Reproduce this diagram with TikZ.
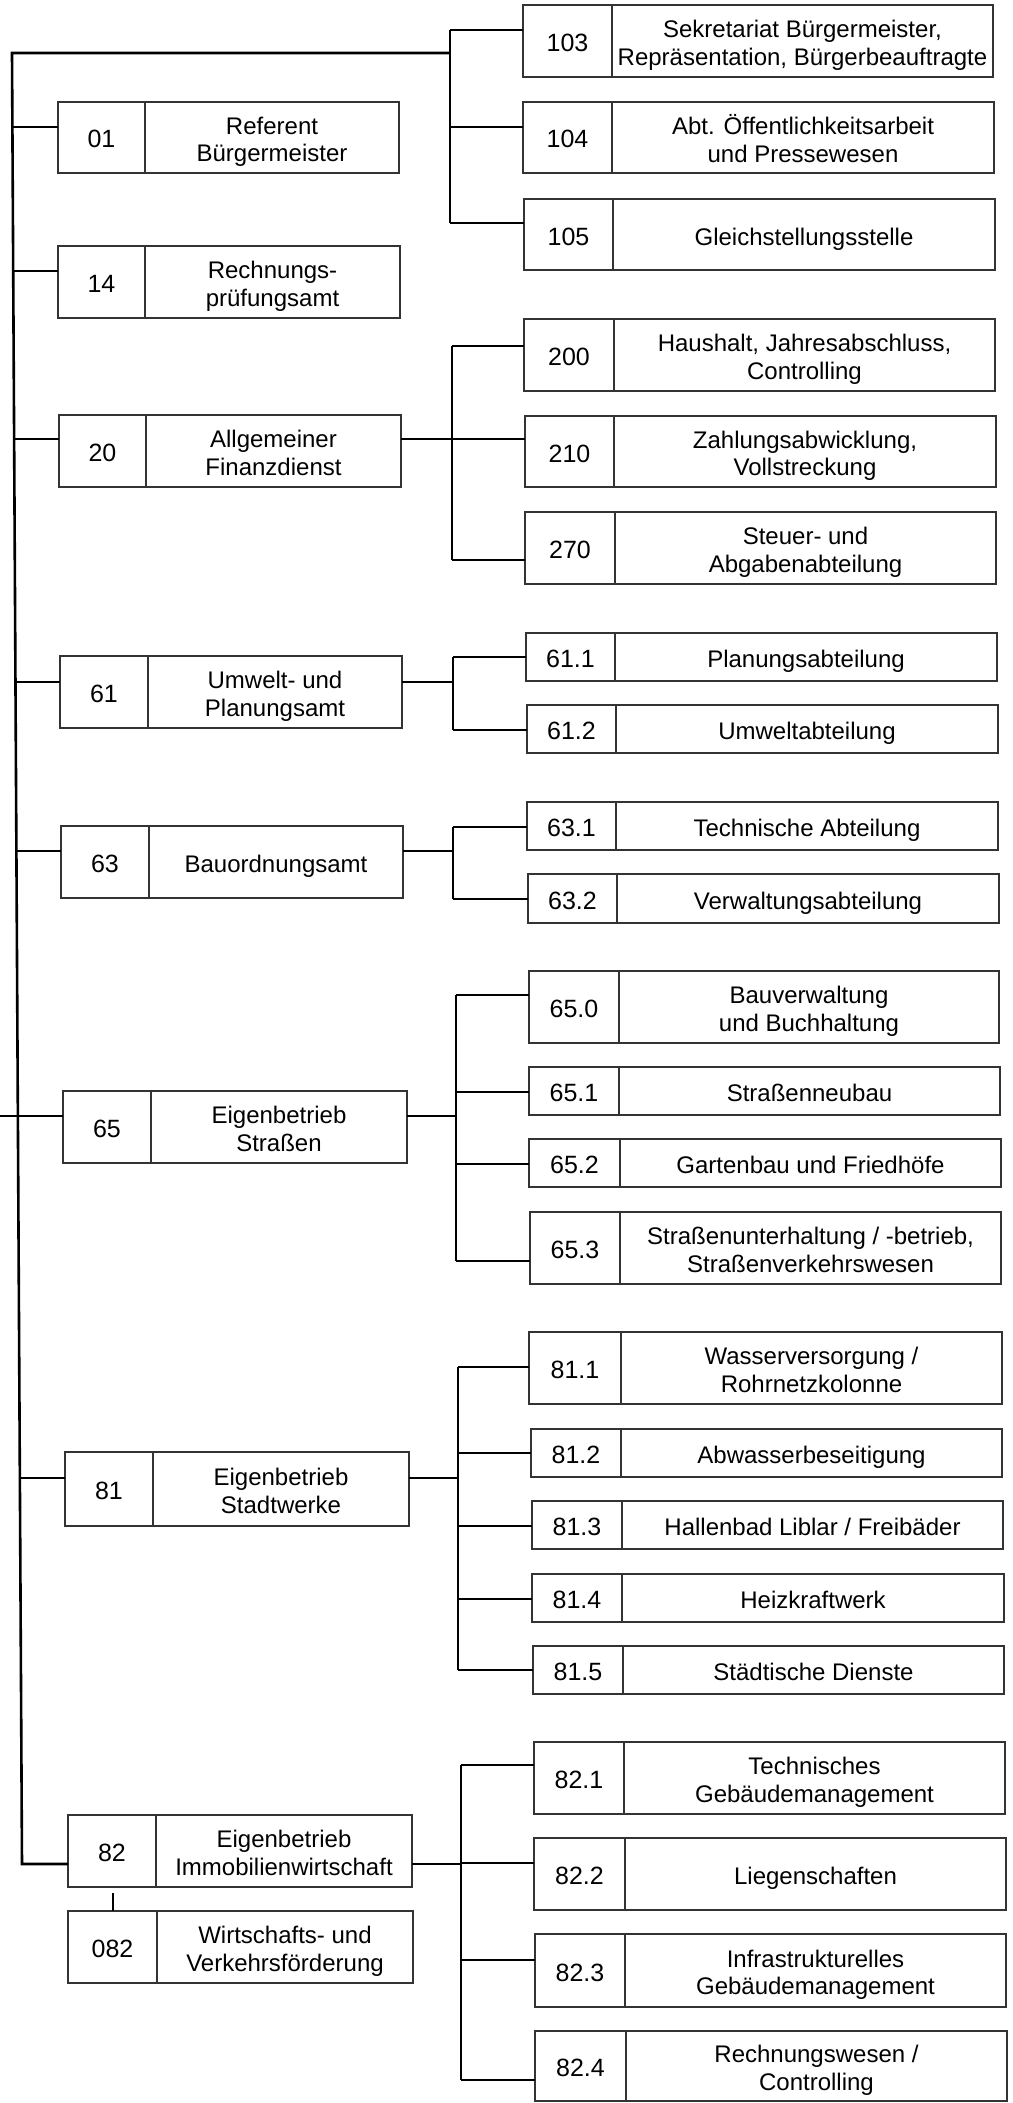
\documentclass[tikz,border=0pt]{standalone}
\usepackage{fontspec}
\setmainfont{Liberation Sans}
\tikzset{
  cell/.style={draw=black!80, line width=1.1pt, inner sep=0pt, outer sep=0pt, align=center,
    font=\fontsize{24}{27.5}\selectfont},
  numcell/.style={cell, font=\fontsize{25}{27.5}\selectfont},
  txtcell/.style={cell},
  conn/.style={line width=2.6pt, draw=black},
  link/.style={line width=1.6pt, draw=black},
}
\newcommand\cellstack[1]{\raisebox{-5pt}[\height][\depth]{\begin{tabular}{@{}c@{}}#1\end{tabular}}}
% #1 name, #2 left, #3 top, #4 right, #5 bottom, #6 divider, #7 number, #8 text
\newcommand\orgbox[8]{%
  \node[numcell, minimum width={(#6-#2)*1pt}, minimum height={(#5-#3)*1pt}]
    (N#1) at ({(#2+#6)/2},{(#3+#5)/2}) {\cellstack{#7}};
  \node[txtcell, minimum width={(#4-#6)*1pt}, minimum height={(#5-#3)*1pt}]
    (#1) at ({(#6+#4)/2},{(#3+#5)/2}) {\cellstack{#8}};
}
\begin{document}
\begin{tikzpicture}[x=1pt, y=-1pt]
\useasboundingbox[fill=white] (0,0) rectangle (1012,2103);

% ---------- left column ----------
\orgbox{a01}{58}{102}{399}{173}{145}{01}{Referent\\Bürgermeister}
\orgbox{a14}{58}{246}{400}{318}{145}{14}{Rechnungs-\\prüfungsamt}
\orgbox{a20}{59}{415}{401}{487}{146}{20}{Allgemeiner\\Finanzdienst}
\orgbox{a61}{60}{656}{402}{728}{148}{61}{Umwelt- und\\Planungsamt}
\orgbox{a63}{61}{826}{403}{898}{149}{63}{Bauordnungsamt}
\orgbox{a65}{63}{1091}{407}{1163}{151}{65}{Eigenbetrieb\\Straßen}
\orgbox{a81}{65}{1452}{409}{1526}{153}{81}{Eigenbetrieb\\Stadtwerke}
\orgbox{a82}{68}{1815}{412}{1887}{156}{82}{Eigenbetrieb\\Immobilienwirtschaft}
\orgbox{a082}{68}{1911}{413}{1983}{157}{082}{Wirtschafts- und\\Verkehrsförderung}

% ---------- right column ----------
\orgbox{b103}{523}{5}{993}{77}{612}{103}{Sekretariat Bürgermeister,\\Repräsentation, Bürgerbeauftragte}
\orgbox{b104}{523}{102}{994}{173}{612}{104}{Abt. Öffentlichkeitsarbeit\\und Pressewesen}
\orgbox{b105}{524}{199}{995}{270}{613}{105}{Gleichstellungsstelle}
\orgbox{b200}{524}{319}{995}{391}{614}{200}{Haushalt, Jahresabschluss,\\Controlling}
\orgbox{b210}{525}{416}{996}{487}{614}{210}{Zahlungsabwicklung,\\Vollstreckung}
\orgbox{b270}{525}{512}{996}{584}{615}{270}{Steuer- und\\Abgabenabteilung}
\orgbox{b611}{526}{633}{997}{681}{615}{61.1}{Planungsabteilung}
\orgbox{b612}{527}{705}{998}{753}{616}{61.2}{Umweltabteilung}
\orgbox{b631}{527}{802}{998}{850}{616}{63.1}{Technische Abteilung}
\orgbox{b632}{528}{874}{999}{923}{617}{63.2}{Verwaltungsabteilung}
\orgbox{b650}{529}{971}{999}{1043}{619}{65.0}{Bauverwaltung\\und Buchhaltung}
\orgbox{b651}{529}{1067}{1000}{1115}{619}{65.1}{Straßenneubau}
\orgbox{b652}{529}{1139}{1001}{1187}{620}{65.2}{Gartenbau und Friedhöfe}
\orgbox{b653}{530}{1212}{1001}{1284}{620}{65.3}{Straßenunterhaltung / -betrieb,\\Straßenverkehrswesen}
\orgbox{b811}{529}{1332}{1002}{1404}{621}{81.1}{Wasserversorgung /\\Rohrnetzkolonne}
\orgbox{b812}{531}{1429}{1002}{1477}{621}{81.2}{Abwasserbeseitigung}
\orgbox{b813}{532}{1501}{1003}{1549}{622}{81.3}{Hallenbad Liblar / Freibäder}
\orgbox{b814}{532}{1574}{1004}{1622}{622}{81.4}{Heizkraftwerk}
\orgbox{b815}{533}{1646}{1004}{1694}{623}{81.5}{Städtische Dienste}
\orgbox{b821}{534}{1742}{1005}{1814}{624}{82.1}{Technisches\\Gebäudemanagement}
\orgbox{b822}{534}{1838}{1006}{1910}{625}{82.2}{Liegenschaften}
\orgbox{b823}{535}{1934}{1006}{2007}{625}{82.3}{Infrastrukturelles\\Gebäudemanagement}
\orgbox{b824}{535}{2031}{1007}{2101}{626}{82.4}{Rechnungswesen /\\Controlling}

% ---------- main spine ----------
\coordinate (mtop) at (12,53);
\coordinate (mbot) at (22,1864);
\coordinate (jtop) at (450,53);
\coordinate (root) at (0,1116);
\draw[conn, line join=miter] (mbot -| Na82.west) -- (mbot) -- (mtop) -- (jtop);
\foreach \n/\x/\y in {01/12.4/127, 14/13.2/271, 20/14.1/439, 61/15.5/682,
                      63/16.4/851, 65/17.9/1116, 81/19.9/1478} {
  \coordinate (m\n) at (\x,\y);
  \draw[conn] (m\n) -- (m\n -| Na\n.west);
}
\draw[conn] (root) -- (m65);

% ---------- branches ----------
% top group
\foreach \n/\y in {103/30, 104/127, 105/223} {
  \coordinate (j\n) at (450,\y);
  \draw[conn] (j\n) -- (j\n -| Nb\n.west);
}
\draw[conn] (j103) -- (j105);
% 20
\foreach \n/\y in {200/346, 210/439, 270/560} {
  \coordinate (j\n) at (452,\y);
  \draw[conn] (j\n) -- (j\n -| Nb\n.west);
}
\draw[conn] (j200) -- (j270);
\coordinate (k20) at (452,439);
\draw[conn] (k20 -| a20.east) -- (k20);
% 61
\foreach \n/\y in {611/657, 612/730} {
  \coordinate (j\n) at (453,\y);
  \draw[conn] (j\n) -- (j\n -| Nb\n.west);
}
\draw[conn] (j611) -- (j612);
\coordinate (k61) at (453,682);
\draw[conn] (k61 -| a61.east) -- (k61);
% 63
\foreach \n/\y in {631/827, 632/899} {
  \coordinate (j\n) at (453,\y);
  \draw[conn] (j\n) -- (j\n -| Nb\n.west);
}
\draw[conn] (j631) -- (j632);
\coordinate (k63) at (453,851);
\draw[conn] (k63 -| a63.east) -- (k63);
% 65
\foreach \n/\y in {650/995, 651/1092, 652/1164, 653/1261} {
  \coordinate (j\n) at (456,\y);
  \draw[conn] (j\n) -- (j\n -| Nb\n.west);
}
\draw[conn] (j650) -- (j653);
\coordinate (k65) at (456,1116);
\draw[conn] (k65 -| a65.east) -- (k65);
% 81
\foreach \n/\y in {811/1367, 812/1453, 813/1526, 814/1599, 815/1670} {
  \coordinate (j\n) at (458,\y);
  \draw[conn] (j\n) -- (j\n -| Nb\n.west);
}
\draw[conn] (j811) -- (j815);
\coordinate (k81) at (458,1478);
\draw[conn] (k81 -| a81.east) -- (k81);
% 82
\foreach \n/\y in {821/1765, 822/1863, 823/1960, 824/2080} {
  \coordinate (j\n) at (461,\y);
  \draw[conn] (j\n) -- (j\n -| Nb\n.west);
}
\draw[conn] (j821) -- (j824);
\coordinate (k82) at (461,1864);
\draw[conn] (k82 -| a82.east) -- (k82);

% 82 -> 082 link
\coordinate (l82) at (113,1893);
\draw[link] (l82) -- (l82 |- Na082.north);
\end{tikzpicture}
\end{document}
